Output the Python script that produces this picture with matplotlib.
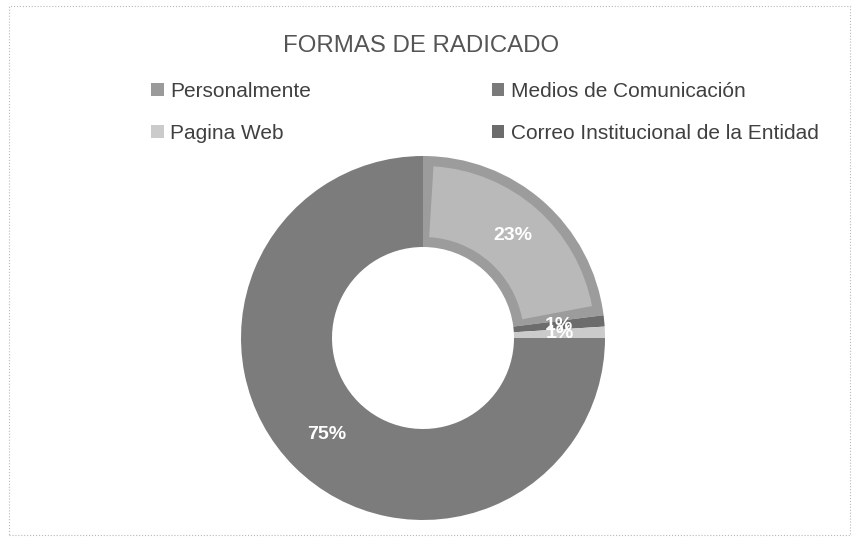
import matplotlib.pyplot as plt
from matplotlib.patches import Rectangle, Wedge

plt.rcParams['font.family'] = ['Liberation Sans', 'DejaVu Sans']

categories = ['Personalmente', 'Medios de Comunicación', 'Pagina Web',
              'Correo Institucional de la Entidad']
values = [23, 1, 1, 75]
colors = ['#9c9c9c', '#6c6c6c', '#cbcbcb', '#7c7c7c']
title = 'FORMAS DE RADICADO'

W, H = 857, 540
fig = plt.figure(figsize=(W / 100, H / 100), dpi=100)
fig.patch.set_facecolor('white')

# pie axes: centre ~ (423, 338) px from top-left, radius ~182 px
cx, cy, r = 423, 338, 182
ax = fig.add_axes([(cx - r) / W, (H - cy - r) / H, 2 * r / W, 2 * r / H])
wedges, texts, autotexts = ax.pie(
    values, colors=colors, startangle=90, counterclock=False,
    autopct='%1.0f%%', pctdistance=0.75,
    wedgeprops=dict(width=0.5, edgecolor='none'),
    textprops=dict(color='white', fontweight='bold', fontsize=14))
ax.set_xlim(-1, 1)
ax.set_ylim(-1, 1)
ax.set_aspect('equal')

# lighter inner face on the first slice, leaving a darker rim (bevel look)
w0 = wedges[0]
inset = Wedge(w0.center, w0.r - 0.055, w0.theta1 + 3.5, w0.theta2 - 3.5,
              width=w0.width - 0.11, facecolor='#b9b9b9', edgecolor='none',
              zorder=w0.get_zorder())
ax.add_patch(inset)
for t in autotexts:
    t.set_zorder(5)

fig.text(cx / W - 0.002, 1 - 46 / H, title, ha='center', va='center',
         fontsize=17.3, color='#555555')

order = [0, 2, 1, 3]
leg_colors = ['#9a9a9a', '#cbcbcb', '#7a7a7a', '#6c6c6c']
leg = fig.legend([wedges[i] for i in order], [categories[i] for i in order],
                 ncol=2, loc='upper left', bbox_to_anchor=(151 / W, 1 - 82 / H),
                 frameon=False, fontsize=15, labelcolor='#404040',
                 handlelength=0.6, handleheight=0.6, handletextpad=0.3,
                 columnspacing=8.7, labelspacing=1.1, borderpad=0, borderaxespad=0)
for h, c in zip(leg.legend_handles, leg_colors):
    h.set_linewidth(0)
    h.set_facecolor(c)

fig.patches.append(Rectangle((9 / W, 1 - 535 / H), 841 / W, 529 / H,
                             transform=fig.transFigure, fill=False,
                             edgecolor='#b8b8b8', linewidth=0.8, linestyle=':'))

fig.savefig('out.png', dpi=100)
